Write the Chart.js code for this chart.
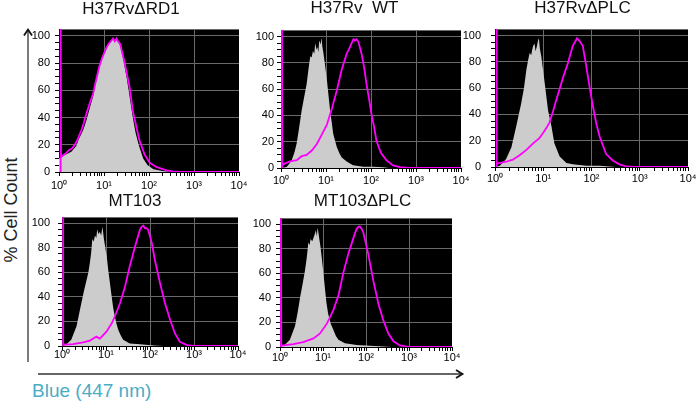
<!DOCTYPE html>
<html><head><meta charset="utf-8">
<script src="https://cdn.jsdelivr.net/npm/chart.js@4.4.1/dist/chart.umd.min.js"></script>
<style>
html,body{margin:0;padding:0;background:#fff;width:700px;height:404px;overflow:hidden;position:relative;font-family:"Liberation Sans",Arial,sans-serif}
canvas{position:absolute}
.lbl{position:absolute;white-space:nowrap;line-height:1}
#ylab{left:11px;top:210px;font-size:18px;color:#222;transform:translate(-50%,-50%) rotate(-90deg)}
#xlab{left:32px;top:381px;font-size:19px;line-height:19px;color:#4bacc6}
svg{position:absolute;left:0;top:0}
</style></head><body>
<svg width="700" height="404">
  <line x1="28" y1="30" x2="28" y2="362" stroke="#333" stroke-width="1.3"/>
  <polyline points="24,35.5 28,29.5 32,35.5" fill="none" stroke="#111" stroke-width="1.8"/>
  <line x1="38" y1="374" x2="462" y2="374" stroke="#333" stroke-width="1.3"/>
  <polyline points="456,370 462.5,374 456,378" fill="none" stroke="#111" stroke-width="1.8"/>
</svg>
<div class="lbl" id="ylab">% Cell Count</div>
<div class="lbl" id="xlab">Blue (447 nm)</div>
<canvas id="c0"></canvas><canvas id="c1"></canvas><canvas id="c2"></canvas><canvas id="c3"></canvas><canvas id="c4"></canvas>
<script>
// ---------- DATA ----------
const panelTitles = ['H37Rv\u0394RD1', 'H37Rv  WT', 'H37Rv\u0394PLC', 'MT103', 'MT103\u0394PLC'];
const xTickValues = [1,2,3,4,5,6,7,8,9,10,20,30,40,50,60,70,80,90,100,200,300,400,500,600,700,800,900,1000,2000,3000,4000,5000,6000,7000,8000,9000,10000];
const xMajorValues = [1, 10, 100, 1000, 10000];
const xTickLabels = ['10\u2070', '10\u00b9', '10\u00b2', '10\u00b3', '10\u2074'];
const yTickValues = [0,5,10,15,20,25,30,35,40,45,50,55,60,65,70,75,80,85,90,95,100,105];

// x values are log10 of the fluorescence intensity, y values are % of max count
// Panel 1: H37RvΔRD1
const p1GreyLogX = [0,0.05,0.1,0.163,0.22,0.28,0.33,0.385,0.44,0.5,0.55,0.61,0.66,0.71,0.755,0.8,0.85,0.9,0.95,1.0,1.05,1.1,1.15,1.2,1.24,1.27,1.31,1.36,1.42,1.5,1.57,1.64,1.7,1.77,1.87,1.97,2.1,2.3,2.5,4];
const p1GreyPct  = [10,11,12,13,14,15,17,19,24,28,32,38,44,50,55,63,70,77,84,88,91,94,95,98,96,98,96,93,84,70,55,40,29,20,10,5,2,0.7,0,0];
const p1MagLogX  = [0.037,0.037,0.045,0.1,0.163,0.22,0.28,0.33,0.385,0.44,0.5,0.55,0.61,0.66,0.71,0.755,0.8,0.85,0.9,0.95,1.0,1.05,1.1,1.15,1.2,1.24,1.28,1.31,1.36,1.46,1.57,1.64,1.72,1.79,1.9,2.01,2.16,2.39,2.53,2.7,4];
const p1MagPct   = [0,105,11,12.5,14,16,17,19,22,26,31,36,43,48,53,57,64,71,78,83,87,91,94,96,98,96,98,96,94,80,62,45,33,23,13,7,3.7,1.2,0.5,0,0];
// Panel 2: H37Rv WT
const p2GreyLogX = [0,0.1,0.13,0.18,0.24,0.3,0.35,0.4,0.46,0.52,0.57,0.61,0.65,0.68,0.71,0.74,0.76,0.79,0.81,0.83,0.85,0.88,0.9,0.92,0.94,0.98,1.02,1.05,1.09,1.13,1.16,1.2,1.24,1.3,1.35,1.46,1.6,1.83,2.05,2.27,2.4,4];
const p2GreyPct  = [0,0.5,1,3,6,12,19,30,44,55,64,75,85,84,89,87,95,90,92,88,97,94,99,92,88,78,67,57,44,34,26,21,16,11,8,5,2,1,1,0.5,0,0];
const p2MagLogX  = [0.022,0.022,0.03,0.06,0.2,0.35,0.46,0.57,0.69,0.8,0.9,1.02,1.13,1.24,1.35,1.46,1.52,1.57,1.61,1.64,1.68,1.72,1.79,1.85,1.9,1.96,2.01,2.07,2.12,2.18,2.23,2.34,2.49,2.64,2.79,2.9,4];
const p2MagPct   = [0,105,2,3,5,6,9,10,13.5,18.5,25,33,45,59,75,87,91,95,98,97,98,96,87,76,64,52,41,31,21,15,11,6,2,0.7,0.2,0,0];
// Panel 3: H37RvΔPLC
const p3GreyLogX = [0,0.1,0.23,0.34,0.44,0.54,0.6,0.65,0.69,0.72,0.75,0.77,0.79,0.82,0.84,0.87,0.89,0.91,0.93,0.96,1.03,1.1,1.17,1.23,1.34,1.48,1.61,1.89,2.17,2.37,2.5,4];
const p3GreyPct  = [0,1,6,15,31,48,60,74,82,87,85,89,92,94,88,92,96,98,90,84,64,43,31,18,8,3,2,1,1,0.3,0,0];
const p3MagLogX  = [0.028,0.028,0.04,0.23,0.37,0.51,0.65,0.79,0.92,1.0,1.07,1.13,1.2,1.27,1.41,1.51,1.61,1.7,1.75,1.82,1.89,1.96,2.03,2.1,2.17,2.3,2.44,2.58,2.72,2.86,4];
const p3MagPct   = [0,105,2.5,4,5.6,9,13,18,22,26,30,34,42,51,68,79,92,98,96,92,77,61,46,33,23,10,5,2,0.5,0,0];
// Panel 4: MT103
const p4GreyLogX = [0,0.1,0.21,0.33,0.44,0.5,0.56,0.6,0.63,0.66,0.69,0.72,0.75,0.78,0.8,0.83,0.86,0.89,0.92,0.95,0.98,1.02,1.05,1.09,1.13,1.16,1.2,1.24,1.28,1.33,1.39,1.54,1.77,2.08,2.3,4];
const p4GreyPct  = [0,1.4,5,16,35,45,54,60,67,75,87,85,90,88,95,91,93,90,97,88,81,72,62,51,40,32,24,18,13,9,5,2,1.4,0.5,0,0];
const p4MagLogX  = [0.023,0.023,0.03,0.25,0.48,0.63,0.78,0.86,1.01,1.13,1.2,1.32,1.43,1.54,1.66,1.77,1.81,1.85,1.88,1.92,1.96,2.04,2.11,2.23,2.34,2.46,2.57,2.68,2.84,3.0,4];
const p4MagPct   = [0,105,1,1.6,3,4.3,7.6,6,11.7,18.5,24,35,48,65,81,94.5,97,98,96,96,94.5,84,70,51,35,21,10,3.5,0.8,0,0];
// Panel 5: MT103ΔPLC
const p5GreyLogX = [0,0.12,0.23,0.35,0.41,0.47,0.53,0.58,0.62,0.66,0.69,0.71,0.75,0.78,0.81,0.83,0.86,0.87,0.89,0.91,0.94,0.97,1.01,1.05,1.08,1.12,1.18,1.24,1.3,1.36,1.51,1.78,2.09,2.4,2.6,4];
const p5GreyPct  = [0,2,6,17,28,41,52,62,72,85,83,88,86,89,92,95,90,97,94,89,82,73,60,46,36,27,19,14,9,6,3,1.6,1,0.5,0,0];
const p5MagLogX  = [0.023,0.023,0.03,0.08,0.31,0.54,0.78,0.93,1.09,1.24,1.36,1.47,1.59,1.71,1.78,1.83,1.86,1.9,1.94,2.05,2.17,2.29,2.4,2.52,2.64,2.79,2.95,3.05,4];
const p5MagPct   = [0,105,1,1.3,2.4,4,7,11,19,30,42,60,76,89,96,98,98,96,93,76,54,35,22,11,4.6,1.3,0.3,0,0];

const greyLogX = [p1GreyLogX, p2GreyLogX, p3GreyLogX, p4GreyLogX, p5GreyLogX];
const greyPct  = [p1GreyPct, p2GreyPct, p3GreyPct, p4GreyPct, p5GreyPct];
const magLogX  = [p1MagLogX, p2MagLogX, p3MagLogX, p4MagLogX, p5MagLogX];
const magPct   = [p1MagPct, p2MagPct, p3MagPct, p4MagPct, p5MagPct];

// ---------- LAYOUT (pixel placement of each panel) ----------
// L,T,R,B: plot box; mid: title centre y; off: title centre shift left of plot centre
const panelBoxes = [
  {L:59,  T:29,  R:239, B:172, mid:9.1,   off:18,  yPad:5,  xPad:3},
  {L:281, T:30,  R:461, B:168, mid:8.1,   off:16.5,yPad:3,  xPad:2},
  {L:495, T:29,  R:688, B:167, mid:8.4,   off:9,   yPad:10, xPad:1},
  {L:62,  T:217, R:238, B:346, mid:201.8, off:15,  yPad:8,  xPad:-2},
  {L:280, T:218, R:452, B:347, mid:201.8, off:3.5, yPad:5,  xPad:0}
];
const FONT = '"Liberation Sans", Arial, sans-serif';
const HEAD = 34, FOOT = 22, YW = 40;
const TRANSP = 'rgba(0,0,0,0)';

const bgPlugin = {
  id: 'blackBg',
  beforeDraw(chart) {
    const {ctx, chartArea: a} = chart;
    ctx.save();
    ctx.fillStyle = '#000';
    ctx.fillRect(a.left, a.top, a.right - a.left, a.bottom - a.top);
    ctx.restore();
  }
};

function toPoints(lx, ys) { return lx.map((e, i) => ({x: Math.pow(10, e), y: ys[i]})); }

function makePanel(i) {
  const p = panelBoxes[i];
  const rw = YW - 2 * p.off;            // width of an empty right-hand axis
  const padR = Math.max(2, 12 - rw);
  const W = (p.R - p.L) + YW + rw + padR;
  const H = HEAD + (p.B - p.T) + FOOT;
  const cv = document.getElementById('c' + i);
  cv.width = W; cv.height = H;
  cv.style.width = W + 'px'; cv.style.height = H + 'px';
  cv.style.left = (p.L - YW) + 'px';
  cv.style.top = (p.T - HEAD) + 'px';
  const lh = 17 * 1.2;
  const ptop = p.mid - p.T + HEAD - lh / 2;
  new Chart(cv, {
    type: 'line',
    data: {
      datasets: [
        {data: toPoints(magLogX[i], magPct[i]), borderColor: '#ff00ff', borderWidth: 1.8, pointRadius: 0, fill: false, tension: 0},
        {data: toPoints(greyLogX[i], greyPct[i]), borderColor: TRANSP, borderWidth: 0, backgroundColor: '#cccccc', fill: 'origin', pointRadius: 0, tension: 0}
      ]
    },
    options: {
      responsive: false, animation: false, devicePixelRatio: 1,
      layout: {padding: {left: 0, right: padR, top: 0, bottom: 0}},
      plugins: {
        legend: {display: false},
        tooltip: {enabled: false},
        title: {display: true, text: panelTitles[i], color: '#111',
          font: {size: 17, family: FONT, weight: 'normal'},
          padding: {top: ptop, bottom: HEAD - lh - ptop}}
      },
      scales: {
        x: {
          type: 'logarithmic', min: 1, max: 10000,
          afterBuildTicks: s => { s.ticks = xTickValues.map(v => ({value: v})); },
          afterFit: s => { s.height = FOOT; },
          ticks: {autoSkip: false, maxRotation: 0, minRotation: 0, padding: p.xPad, color: '#000',
            font: {size: 11, family: FONT},
            callback: v => { const k = xMajorValues.indexOf(v); return k >= 0 ? xTickLabels[k] : ''; }},
          grid: {color: c => (c.tick && [10, 100, 1000].includes(c.tick.value)) ? '#6a6a6a' : TRANSP,
            tickColor: '#000', tickLength: 4, lineWidth: 1},
          border: {color: '#000', width: 1}
        },
        y: {
          min: 0, max: 105,
          afterBuildTicks: s => { s.ticks = yTickValues.map(v => ({value: v})); },
          afterFit: s => { s.width = YW; },
          ticks: {autoSkip: false, padding: p.yPad, color: '#000', font: {size: 11, family: FONT},
            callback: v => (v % 20 === 0 && v <= 100) ? String(v) : ''},
          grid: {color: c => {
              const v = c.tick ? c.tick.value : -1;
              return ((v % 20 === 0 && v > 0 && v <= 100) || v === 105) ? '#6a6a6a' : TRANSP;
            },
            tickColor: c => (c.tick && c.tick.value === 105) ? TRANSP : '#000',
            tickLength: 4, lineWidth: 1},
          border: {color: '#000', width: 1}
        },
        yRight: {
          position: 'right', min: 0, max: 1,
          afterFit: s => { s.width = rw; },
          ticks: {display: false},
          grid: {display: false, drawOnChartArea: false},
          border: {display: false}
        }
      }
    },
    plugins: [bgPlugin]
  });
}
for (let i = 0; i < 5; i++) makePanel(i);
</script>
</body></html>
